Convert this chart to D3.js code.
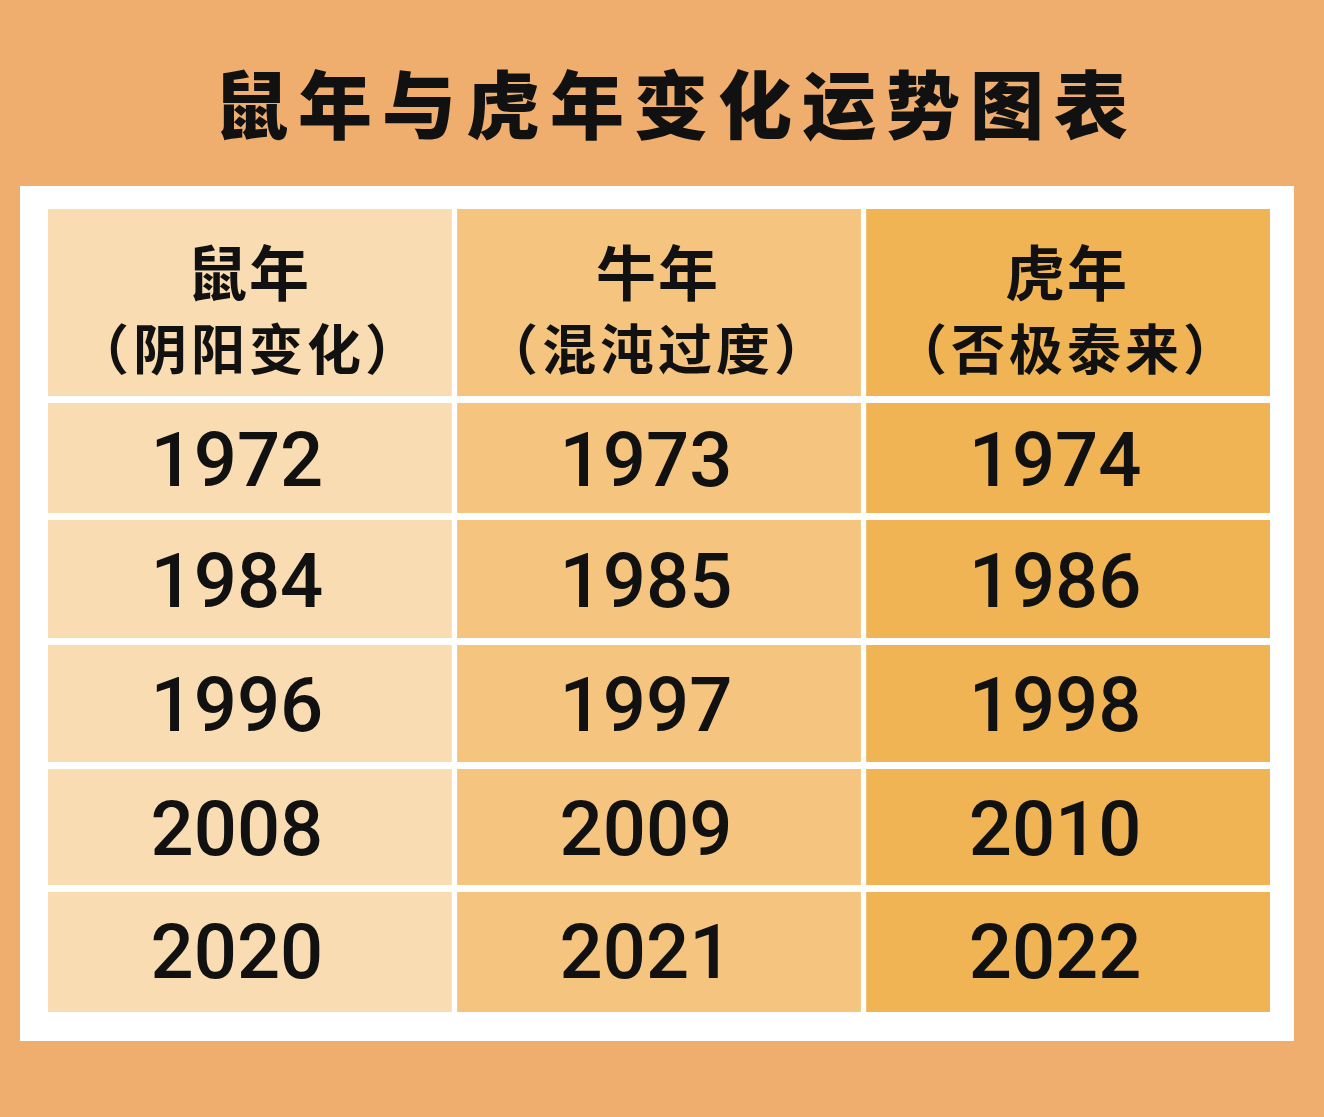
<!DOCTYPE html>
<html><head><meta charset="utf-8">
<script src="https://cdn.jsdelivr.net/npm/d3@7"></script>
<style>body{margin:0;background:#efae6e;}</style>
</head><body>
<script>
const title = "鼠年与虎年变化运势图表";
const headers = ["鼠年", "牛年", "虎年"];
const subHeaders = ["（阴阳变化）", "（混沌过度）", "（否极泰来）"];
const ratYears = [1972, 1984, 1996, 2008, 2020];
const oxYears = [1973, 1985, 1997, 2009, 2021];
const tigerYears = [1974, 1986, 1998, 2010, 2022];
const colColors = ["#f9dcb2", "#f5c47f", "#f0b454"];

const width = 1324, height = 1117;
const svg = d3.select("body").append("svg").attr("width", width).attr("height", height);
svg.append("rect").attr("width", width).attr("height", height).attr("fill", "#efae6e");

svg.append("text").attr("x", 676).attr("y", 133).attr("text-anchor", "middle")
  .attr("font-family", "Noto Sans CJK SC").attr("font-weight", 900)
  .attr("font-size", 74).attr("letter-spacing", 10).attr("fill", "#111").text(title);

svg.append("rect").attr("x", 20).attr("y", 186).attr("width", 1274).attr("height", 855).attr("fill", "#fff");

const cols = [ratYears, oxYears, tigerYears];
const x = d3.scaleBand().domain(d3.range(3)).range([46, 1270]).paddingInner(0.008);
const rowEdges = [209, 401, 518, 643, 767, 890, 1014];
const gap = 5;

cols.forEach((years, c) => {
  const g = svg.append("g");
  rowEdges.slice(0, -1).forEach((y0, r) => {
    const y1 = rowEdges[r + 1] - (r < 5 ? gap : 2);
    g.append("rect").attr("x", x(c) + 2).attr("y", y0 + (r ? 2 : 0))
      .attr("width", x.bandwidth() - 2).attr("height", y1 - y0 - (r ? 2 : 0))
      .attr("fill", colColors[c]);
  });
  const cx = x(c) + x.bandwidth() / 2;
  g.append("text").attr("x", cx).attr("y", 296).attr("text-anchor", "middle")
    .attr("font-family", "Noto Sans CJK SC").attr("font-weight", 700).attr("font-size", 60)
    .attr("letter-spacing", 2).attr("fill", "#111").text(headers[c]);
  g.append("text").attr("x", cx).attr("y", 370).attr("text-anchor", "middle")
    .attr("font-family", "Noto Sans CJK SC").attr("font-weight", 700).attr("font-size", 54)
    .attr("letter-spacing", 4).attr("fill", "#111").text(subHeaders[c]);
  years.forEach((yv, r) => {
    const ymid = (rowEdges[r + 1] + rowEdges[r + 2]) / 2;
    g.append("text").attr("x", cx - 12).attr("y", ymid + 26).attr("text-anchor", "middle")
      .attr("font-family", "Roboto").attr("font-weight", 500).attr("font-size", 76)
      .attr("fill", "#111").text(yv);
  });
});
</script>
</body></html>
